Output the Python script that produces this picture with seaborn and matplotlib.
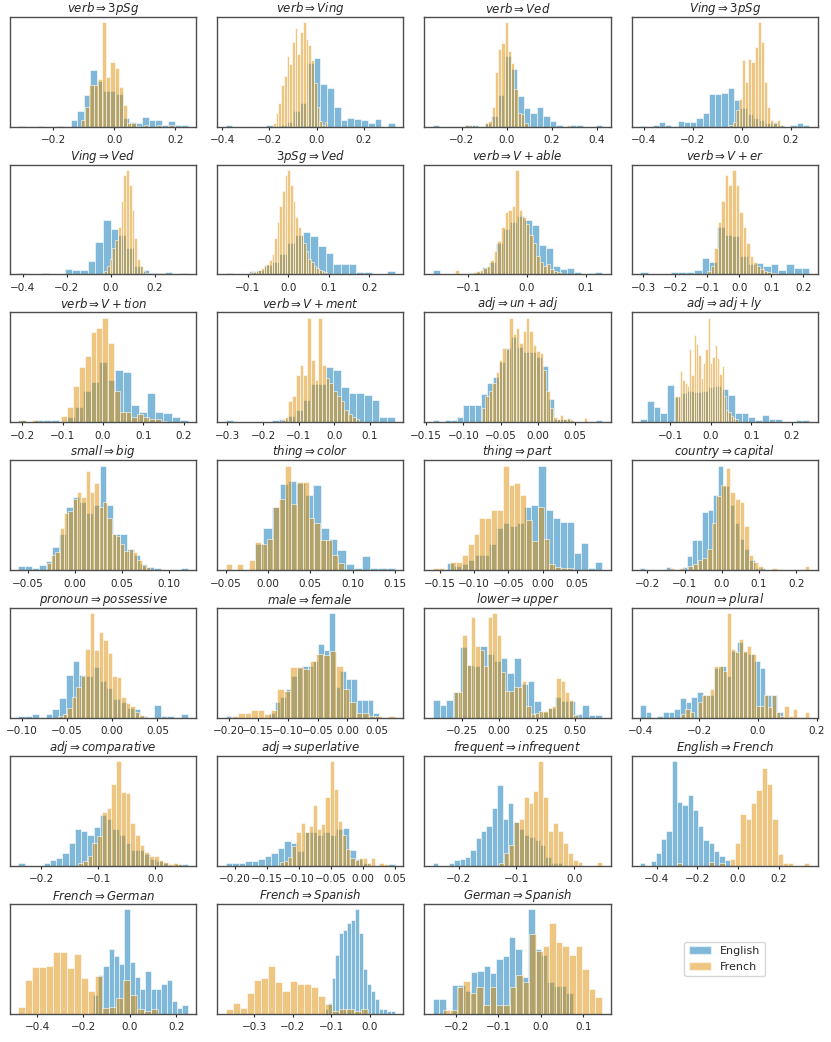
import numpy as np
import pandas as pd
import seaborn as sns
from matplotlib import pyplot as plt
from matplotlib.patches import Patch
from matplotlib.ticker import MultipleLocator

# panel titles (mathtext, as in the original figure)
titles = [
    r'$verb \Rightarrow 3pSg$', r'$verb \Rightarrow Ving$', r'$verb \Rightarrow Ved$', r'$Ving \Rightarrow 3pSg$',
    r'$Ving \Rightarrow Ved$', r'$3pSg \Rightarrow Ved$', r'$verb \Rightarrow V + able$', r'$verb \Rightarrow V + er$',
    r'$verb \Rightarrow V + tion$', r'$verb \Rightarrow V + ment$', r'$adj \Rightarrow un + adj$', r'$adj \Rightarrow adj + ly$',
    r'$small \Rightarrow big$', r'$thing \Rightarrow color$', r'$thing \Rightarrow part$', r'$country \Rightarrow capital$',
    r'$pronoun \Rightarrow possessive$', r'$male \Rightarrow female$', r'$lower \Rightarrow upper$', r'$noun \Rightarrow plural$',
    r'$adj \Rightarrow comparative$', r'$adj \Rightarrow superlative$', r'$frequent \Rightarrow infrequent$', r'$English \Rightarrow French$',
    r'$French \Rightarrow German$', r'$French \Rightarrow Spanish$', r'$German \Rightarrow Spanish$',
]

# histogram range (first / last bin edge) of each series, per panel
en_ranges = [
    (-0.314, 0.240), (-0.385, 0.330), (-0.330, 0.424), (-0.415, 0.276),
    (-0.420, 0.350), (-0.155, 0.263), (-0.160, 0.128), (-0.310, 0.218),
    (-0.210, 0.210), (-0.305, 0.170), (-0.141, 0.086), (-0.175, 0.2425),
    (-0.060, 0.120), (-0.015, 0.150), (-0.140, 0.0866), (-0.220, 0.116),
    (-0.104, 0.0835), (-0.205, 0.0526), (-0.440, 0.680), (-0.401, 0.084),
    (-0.240, 0.057), (-0.215, 0.0502), (-0.245, -0.0218), (-0.482, -0.040),
    (-0.160, 0.249), (-0.120, 0.0654), (-0.255, 0.075),
]
fr_ranges = [
    (-0.1096, 0.194), (-0.185, 0.045), (-0.200, 0.282), (-0.050, 0.168),
    (-0.030, 0.245), (-0.100, 0.095), (-0.122, 0.058), (-0.100, 0.120),
    (-0.205, 0.1575), (-0.150, 0.0705), (-0.075, 0.066), (-0.088, 0.066),
    (-0.030, 0.0804), (-0.050, 0.090), (-0.160, 0.044), (-0.140, 0.235),
    (-0.060, 0.040), (-0.195, 0.080), (-0.300, 0.518), (-0.2606, 0.175),
    (-0.135, 0.0476), (-0.130, 0.039), (-0.130, 0.0485), (-0.300, 0.350),
    (-0.480, 0.120), (-0.375, -0.005), (-0.230, 0.1444),
]

# bin heights (English)
en_counts = [
    [1, 0, 0, 1, 0, 0, 1, 0, 6, 15, 30, 54, 44, 34, 34, 31, 8, 4, 3, 9, 6, 6, 2, 5, 2, 2],
    [2, 0, 0, 0, 0, 0, 2, 0, 2, 4, 15, 23, 61, 66, 41, 37, 19, 6, 8, 7, 6, 3, 7, 0, 3],
    [2, 0, 0, 0, 0, 2, 2, 0, 3, 10, 30, 67, 55, 29, 18, 13, 19, 10, 5, 2, 0, 2, 2, 0, 0, 2],
    [1, 0, 2, 4, 2, 0, 5, 4, 4, 8, 13, 31, 31, 32, 37, 25, 18, 12, 8, 6, 3, 4, 2, 0, 2, 3, 2],
    [1, 0, 0, 1, 0, 0, 5, 4, 4, 13, 31, 52, 43, 38, 25, 8, 4, 1, 1, 2, 0, 1],
    [1, 0, 0, 3, 4, 9, 12, 20, 30, 38, 41, 37, 27, 21, 10, 10, 10, 2, 2, 0, 0, 3],
    [4, 0, 0, 0, 0, 1, 2, 7, 12, 30, 43, 50, 56, 52, 47, 28, 25, 8, 5, 6, 2, 0, 1, 2],
    [2, 0, 0, 0, 2, 2, 2, 4, 16, 12, 45, 38, 37, 18, 10, 11, 8, 10, 4, 10, 6, 6],
    [2, 0, 2, 2, 2, 0, 5, 15, 30, 39, 58, 40, 50, 48, 17, 10, 28, 10, 9, 5, 2],
    [2, 0, 0, 0, 0, 0, 2, 3, 6, 12, 21, 37, 37, 53, 50, 34, 28, 28, 26, 21, 5, 5],
    [2, 0, 2, 2, 5, 17, 17, 17, 27, 38, 43, 58, 71, 82, 72, 67, 67, 62, 54, 22, 3, 3, 3, 0, 0, 0, 0, 2],
    [3, 20, 15, 9, 36, 24, 28, 30, 29, 30, 34, 35, 32, 26, 9, 9, 5, 2, 7, 3, 3, 0, 0, 2, 2],
    [4, 4, 2, 5, 9, 22, 35, 60, 70, 65, 55, 62, 100, 62, 35, 35, 20, 15, 6, 3, 2, 0, 0, 0, 2],
    [25, 40, 60, 82, 85, 83, 72, 81, 40, 30, 19, 6, 2, 14, 2, 2, 2],
    [7, 4, 6, 10, 15, 15, 25, 40, 45, 42, 45, 60, 62, 100, 58, 50, 46, 46, 16, 26, 2, 8],
    [2, 0, 0, 0, 0, 3, 0, 0, 3, 14, 29, 29, 56, 58, 72, 100, 80, 62, 45, 30, 20, 10, 2, 2],
    [2, 2, 4, 0, 4, 9, 19, 41, 55, 41, 40, 49, 35, 29, 18, 15, 10, 9, 2, 0, 13, 2, 2, 0, 4],
    [2, 0, 0, 0, 0, 0, 0, 0, 5, 15, 20, 28, 40, 48, 50, 50, 55, 71, 65, 100, 30, 45, 37, 37, 17, 17, 17, 5],
    [17, 13, 17, 25, 68, 51, 50, 69, 61, 55, 57, 43, 57, 33, 35, 16, 6, 10, 20, 16, 16, 4, 13, 3, 3],
    [13, 6, 0, 2, 6, 6, 9, 19, 15, 20, 25, 22, 22, 48, 50, 40, 64, 73, 63, 61, 55, 48, 22, 22, 6],
    [3, 0, 0, 0, 3, 6, 8, 12, 22, 35, 33, 30, 37, 49, 45, 35, 30, 22, 15, 15, 11, 7, 5, 3, 0, 2, 2],
    [3, 3, 3, 5, 5, 7, 10, 12, 17, 24, 22, 14, 32, 32, 30, 32, 30, 35, 36, 15, 7, 3, 0, 0, 0, 2],
    [3, 0, 0, 3, 6, 7, 9, 15, 27, 33, 38, 55, 77, 45, 60, 42, 35, 30, 28, 25, 20, 9, 3, 3],
    [3, 0, 5, 12, 26, 33, 100, 61, 58, 68, 53, 38, 25, 22, 14, 10, 6],
    [18, 37, 46, 62, 55, 48, 100, 50, 35, 24, 41, 24, 24, 29, 32, 12, 6, 8],
    [5, 10, 34, 56, 77, 80, 87, 90, 100, 77, 43, 29, 22, 14, 5, 5, 3, 3],
    [14, 14, 0, 28, 28, 22, 40, 41, 46, 39, 52, 55, 73, 62, 35, 100, 62, 56, 30, 27, 27, 20],
]

# bin heights (French)
fr_counts = [
    [6, 19, 40, 40, 45, 100, 47, 62, 56, 38, 21, 3, 3, 1, 0, 2, 0, 0, 2, 0, 0, 2],
    [3, 13, 23, 40, 48, 67, 60, 81, 94, 69, 90, 100, 84, 78, 64, 42, 19, 5, 2, 4],
    [0, 2, 0, 2, 0, 0, 0, 3, 5, 19, 52, 74, 80, 100, 72, 61, 36, 13, 12, 3,
     0, 0, 0, 0, 0, 0, 0, 0, 0, 0, 0, 0, 2],
    [2, 4, 16, 26, 64, 43, 65, 62, 76, 100, 81, 43, 19, 6, 3, 6, 2],
    [3, 8, 15, 25, 33, 45, 70, 95, 100, 85, 62, 35, 15, 8, 3, 1, 0, 0, 0, 0, 1, 1],
    [1, 2, 2, 3, 4, 6, 8, 10, 14, 20, 35, 50, 65, 80, 95, 100, 85, 70, 55, 45, 38, 30, 22, 15, 12, 8, 6, 4, 3, 2],
    [4, 0, 0, 0, 0, 2, 3, 4, 6, 8, 14, 22, 32, 45, 60, 62, 65, 100, 62, 55, 48, 38, 30, 18, 12, 8, 10, 5, 3, 2],
    [3, 8, 25, 50, 70, 95, 85, 100, 85, 60, 45, 30, 18, 12, 8, 5, 3, 2, 1, 1],
    [2, 0, 2, 0, 0, 0, 0, 6, 15, 35, 53, 63, 86, 90, 100, 76, 30, 10, 10, 5, 8, 5, 3, 3, 1],
    [2, 5, 20, 25, 45, 55, 45, 100, 60, 40, 100, 55, 42, 38, 30, 25, 20, 12, 8, 5, 3],
    [14, 25, 30, 38, 48, 60, 71, 70, 100, 84, 90, 76, 87, 100, 87, 74, 68, 66, 50, 30,
     14, 5, 3, 7, 3, 4, 2, 0, 0, 0, 4],
    [25, 25, 49, 40, 38, 35, 70, 45, 83, 75, 64, 42, 57, 70, 100, 57, 62, 74, 61, 46,
     54, 25, 12, 10, 6, 4, 3],
    [7, 15, 17, 40, 55, 57, 68, 75, 70, 95, 75, 83, 60, 65, 50, 35, 33, 25, 18, 20, 17, 10, 5, 3],
    [6, 0, 6, 0, 10, 27, 25, 30, 60, 68, 100, 63, 84, 84, 50, 45, 29, 29, 15, 7],
    [2, 2, 0, 8, 8, 15, 25, 35, 50, 50, 58, 58, 100, 81, 83, 72, 48, 28, 60, 30, 6, 3, 2, 2],
    [2, 0, 2, 0, 4, 6, 10, 12, 20, 45, 71, 81, 98, 75, 68, 65, 42, 15, 8, 4, 0, 0, 2, 0, 0, 0, 0, 0, 0, 4],
    [2, 4, 10, 20, 30, 40, 66, 100, 65, 82, 75, 62, 40, 39, 20, 14, 12, 6, 3, 1],
    [2, 5, 5, 8, 8, 4, 8, 28, 26, 49, 49, 47, 55, 61, 60, 64, 50, 28, 15, 5, 5, 2, 2, 0, 2],
    [25, 25, 79, 51, 97, 69, 65, 50, 97, 100, 79, 44, 26, 26, 30, 30, 35, 12, 4, 5,
     7, 7, 10, 12, 38, 35, 25, 17, 3],
    [4, 9, 6, 0, 15, 22, 22, 28, 50, 50, 45, 100, 66, 63, 76, 64, 69, 61, 12, 12,
     22, 11, 22, 6, 2, 12, 2, 9, 0, 0, 6],
    [3, 5, 10, 22, 29, 52, 55, 78, 100, 71, 70, 41, 30, 20, 13, 10, 10, 6, 4, 2, 3, 2],
    [4, 5, 9, 19, 32, 41, 32, 38, 58, 35, 40, 66, 100, 74, 43, 30, 16, 8, 6, 8, 8, 3, 8, 0, 3, 2],
    [3, 12, 20, 42, 45, 66, 60, 72, 100, 66, 33, 41, 33, 22, 12, 6, 4, 0, 0, 0, 4],
    [3, 0, 0, 0, 0, 0, 4, 0, 3, 0, 7, 22, 50, 45, 60, 73, 94, 78, 45, 11, 3, 3, 0, 0, 3],
    [7, 32, 45, 45, 46, 59, 59, 44, 57, 34, 22, 36, 6, 7, 15, 32, 18, 5, 3, 5],
    [5, 10, 6, 20, 32, 34, 46, 30, 22, 31, 29, 29, 26, 17, 9, 3, 5, 5, 3, 5],
    [4, 4, 26, 31, 20, 26, 8, 26, 8, 8, 26, 37, 30, 76, 60, 65, 87, 69, 65, 56, 65, 43, 24, 16],
]

# x tick spacing used on each panel
tick_steps = [
    0.2, 0.2, 0.2, 0.2,
    0.2, 0.1, 0.1, 0.1,
    0.1, 0.1, 0.05, 0.1,
    0.05, 0.05, 0.05, 0.1,
    0.05, 0.05, 0.25, 0.2,
    0.1, 0.05, 0.1, 0.2,
    0.2, 0.1, 0.1,
]

languages = ['English', 'French']


def draw_hist(ax, counts, rng, color):
  edges = np.linspace(rng[0], rng[1], len(counts) + 1)
  df = pd.DataFrame({'value': 0.5 * (edges[:-1] + edges[1:]),
                     'count': np.asarray(counts, dtype=float)})
  # bins as a plain list: seaborn compares bins to 'auto' internally
  sns.histplot(data=df, x='value', weights='count', bins=edges.tolist(),
               color=color, alpha=0.5, edgecolor='white', linewidth=0.4, ax=ax)


def main():
  sns.set_style('ticks', {'axes.edgecolor': '0.3'})
  plt.rcParams['font.family'] = ['DejaVu Sans']
  plt.rcParams['xtick.major.size'] = 2.5
  plt.rcParams['xtick.major.width'] = 0.8
  plt.rcParams['xtick.labelsize'] = 7.5
  plt.rcParams['axes.linewidth'] = 1.0

  colors = sns.color_palette('colorblind')[:2]

  f, axes = plt.subplots(7, 4, figsize=(8.31, 10.42), dpi=100)
  f.subplots_adjust(left=0.012, right=0.984, top=0.984, bottom=0.027,
                    hspace=0.345, wspace=0.113)

  for i, ax in enumerate(axes.flat[:len(titles)]):
    draw_hist(ax, en_counts[i], en_ranges[i], colors[0])
    draw_hist(ax, fr_counts[i], fr_ranges[i], colors[1])
    ax.set_title(titles[i], fontsize=8.5, pad=3)
    ax.set_yticks([])
    ax.set_ylabel('')
    ax.set_xlabel('')
    ax.xaxis.set_major_locator(MultipleLocator(tick_steps[i]))

  leg_ax = axes.flat[-1]
  leg_ax.axis('off')
  handles = [Patch(facecolor=c, alpha=0.5, edgecolor='white', label=name)
             for c, name in zip(colors, languages)]
  leg_ax.legend(handles=handles, loc='center', fontsize=8, frameon=True)

  f.savefig('out.png', dpi=100)


if __name__ == '__main__':
  main()
